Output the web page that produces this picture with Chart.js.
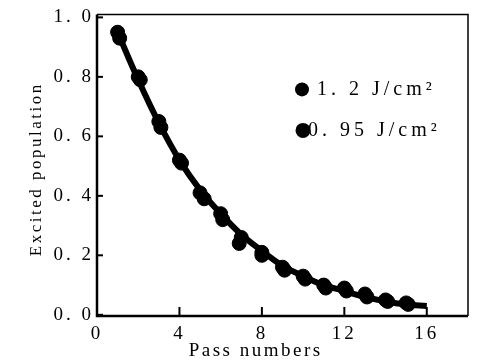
<!DOCTYPE html>
<html>
<head>
<meta charset="utf-8">
<script src="https://cdn.jsdelivr.net/npm/chart.js@4/dist/chart.umd.min.js"></script>
<style>
    html, body { margin: 0; padding: 0; background: #fff; }
    #wrap { width: 483px; height: 363px; }
</style>
</head>
<body>
<div id="wrap"><canvas id="chart-pass"></canvas></div>
<script>
    // values
    const passes12 = [1, 2, 3, 4, 5, 6, 7, 8, 9, 10, 11, 12, 13, 14, 15];
    const pop12 = [0.95, 0.80, 0.65, 0.52, 0.41, 0.34, 0.26, 0.21, 0.16, 0.13, 0.10, 0.09, 0.07, 0.05, 0.04];
    const passes095 = [1.1, 2.1, 3.1, 4.1, 5.2, 6.1, 6.9, 8.0, 9.1, 10.1, 11.1, 12.1, 13.1, 14.1, 15.1];
    const pop095 = [0.93, 0.79, 0.63, 0.51, 0.39, 0.32, 0.24, 0.20, 0.15, 0.12, 0.09, 0.08, 0.06, 0.045, 0.035];
    const fitPasses = [1, 2, 3, 4, 5, 6, 7, 8, 9, 10, 11, 12, 13, 14, 15, 16];
    const fitPop = [0.95, 0.79, 0.645, 0.52, 0.42, 0.34, 0.27, 0.215, 0.165, 0.13, 0.10, 0.08, 0.06, 0.045, 0.035, 0.03];
    const xTicks = [0, 4, 8, 12, 16];
    const yTicks = [0, 0.2, 0.4, 0.6, 0.8, 1.0];
    const seriesNames = ['1. 2 J/cm\u00B2', '0. 95 J/cm\u00B2'];

    function toPoints(xs, ys) {
        return xs.map((x, i) => ({ x: x, y: ys[i] }));
    }

    // wide letter spacing of the scanned figure, for tick labels too
    const spacing = {
        id: 'spacing',
        beforeDraw(chart) { chart.ctx.letterSpacing = '3px'; },
        beforeDatasetsDraw(chart) { chart.ctx.letterSpacing = '0px'; }
    };

    // frame, inward ticks, legend and axis titles
    const decor = {
        id: 'decor',
        afterDraw(chart) {
            const ctx = chart.ctx;
            const a = chart.chartArea;
            const xs = chart.scales.x;
            const ys = chart.scales.y;
            ctx.save();
            ctx.strokeStyle = '#000';
            ctx.lineWidth = 1.5;
            ctx.beginPath();
            ctx.moveTo(a.left, a.top);
            ctx.lineTo(a.right, a.top);
            ctx.lineTo(a.right, a.bottom);
            ctx.stroke();
            ctx.lineWidth = 2.5;
            ctx.beginPath();
            ctx.moveTo(a.left, a.top);
            ctx.lineTo(a.left, a.bottom);
            ctx.lineTo(a.right, a.bottom);
            ctx.stroke();

            ctx.lineWidth = 2;
            yTicks.forEach(v => {
                const py = ys.getPixelForValue(v);
                ctx.beginPath();
                ctx.moveTo(a.left, py);
                ctx.lineTo(a.left + 6, py);
                ctx.stroke();
            });
            xTicks.forEach(v => {
                const px = xs.getPixelForValue(v);
                ctx.beginPath();
                ctx.moveTo(px, a.bottom);
                ctx.lineTo(px, a.bottom - 9);
                ctx.stroke();
            });

            // legend
            ctx.fillStyle = '#000';
            ctx.font = '20px "Liberation Serif"';
            ctx.textBaseline = 'middle';
            ctx.letterSpacing = '4px';
            const lx = a.left + 205;
            const rows = [a.top + 75, a.top + 116];
            ctx.beginPath();
            ctx.arc(lx, rows[0], 7, 0, Math.PI * 2);
            ctx.fill();
            ctx.fillText(seriesNames[0], lx + 15, rows[0]);
            ctx.beginPath();
            ctx.arc(lx + 1, rows[1], 7.5, 0, Math.PI * 2);
            ctx.fill();
            ctx.fillText(seriesNames[1], lx + 6, rows[1]);

            // x title
            ctx.font = '19px "Liberation Serif"';
            ctx.letterSpacing = '2.5px';
            ctx.textAlign = 'center';
            ctx.fillText('Pass numbers', xs.getPixelForValue(7.7), 351);

            // y title
            ctx.font = '17px "Liberation Serif"';
            ctx.letterSpacing = '2.5px';
            ctx.translate(37, (a.top + a.bottom) / 2 + 4);
            ctx.rotate(-Math.PI / 2);
            ctx.fillText('Excited population', 0, 0);
            ctx.restore();
        }
    };

    new Chart(document.getElementById('chart-pass').getContext('2d'), {
        type: 'scatter',
        data: {
            datasets: [
                {
                    label: 'fit',
                    data: toPoints(fitPasses, fitPop),
                    showLine: true,
                    borderColor: '#000',
                    borderWidth: 6,
                    tension: 0.4,
                    pointRadius: 0
                },
                {
                    label: seriesNames[0],
                    data: toPoints(passes12, pop12),
                    backgroundColor: '#000',
                    borderColor: '#000',
                    pointRadius: 7
                },
                {
                    label: seriesNames[1],
                    data: toPoints(passes095, pop095),
                    backgroundColor: '#000',
                    borderColor: '#000',
                    pointRadius: 7
                }
            ]
        },
        options: {
            responsive: true,
            maintainAspectRatio: false,
            animation: false,
            layout: { padding: { left: 0, right: 15, top: 12, bottom: 0 } },
            plugins: {
                legend: { display: false },
                tooltip: { enabled: false }
            },
            scales: {
                x: {
                    type: 'linear',
                    min: 0,
                    max: 18,
                    afterBuildTicks: scale => { scale.ticks = xTicks.map(v => ({ value: v })); },
                    afterFit: scale => { scale.height = 47; },
                    grid: { display: false, drawTicks: false },
                    border: { display: false },
                    ticks: {
                        padding: 7,
                        color: '#000',
                        font: { family: '"Liberation Serif"', size: 19 }
                    }
                },
                y: {
                    min: -0.004,
                    max: 1.01,
                    afterBuildTicks: scale => { scale.ticks = yTicks.map(v => ({ value: v })); },
                    afterFit: scale => { scale.width = 97; },
                    grid: { display: false, drawTicks: false },
                    border: { display: false },
                    ticks: {
                        padding: 3,
                        color: '#000',
                        font: { family: '"Liberation Serif"', size: 19 },
                        callback: v => v.toFixed(1).replace('.', '. ')
                    }
                }
            }
        },
        plugins: [spacing, decor]
    });
</script>
</body>
</html>
